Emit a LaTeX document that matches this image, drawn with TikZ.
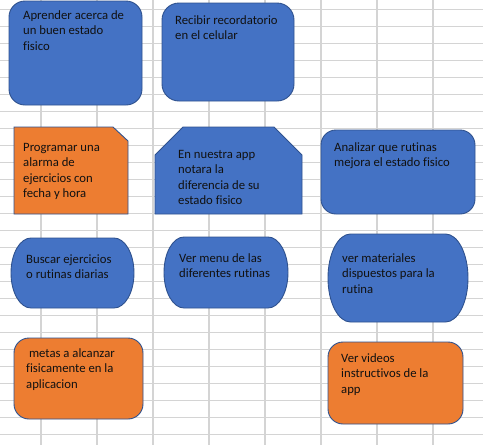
\documentclass[tikz,border=0pt]{standalone}
\usepackage{fontspec}
\setmainfont{Carlito}[Ligatures={NoCommon}]
\definecolor{boxblue}{HTML}{4472C4}
\definecolor{boxorange}{HTML}{ED7D31}
\definecolor{edgeblue}{HTML}{2F528F}
\definecolor{gridgray}{HTML}{D4D4D4}
\definecolor{txtcol}{HTML}{111111}
\newcommand{\txtlines}[1]{\begin{tabular}[t]{@{}l@{}}#1\end{tabular}}
\begin{document}
\begin{tikzpicture}[x=1pt,y=1pt,
  gridline/.style={draw=gridgray, line width=1.1pt},
  bluebox/.style={fill=boxblue, draw=edgeblue, line width=0.9pt},
  orangebox/.style={fill=boxorange, draw=edgeblue, line width=0.9pt},
  txt/.style={anchor=base west, inner sep=0pt, text=txtcol,
    font=\fontsize{12.7}{15.6}\selectfont}]
\useasboundingbox (0,0) rectangle (483,-445);
\fill[white] (0,0) rectangle (483,-445);
% spreadsheet grid
\foreach \i in {0,...,7} \draw[gridline] ({41+56*\i},0) -- ({41+56*\i},-445);
\foreach \j in {0,...,25} \draw[gridline] (0,{-9.2-17.02*\j}) -- (483,{-9.2-17.02*\j});
% row 1
\draw[bluebox, rounded corners=16pt] (9,-1) rectangle (142,-105);
\draw[bluebox, rounded corners=17pt] (162,-3) rectangle (294,-101);
% row 2
\draw[orangebox] (14,-127) -- (113,-127) -- (128,-141) -- (128,-214) -- (14,-214) -- cycle;
\draw[bluebox] (155,-155) -- (183,-127) -- (274,-127) -- (302,-155) -- (302,-214) -- (155,-214) -- cycle;
\draw[bluebox, rounded corners=15pt] (321,-130) rectangle (475,-214);
% row 3 (terminators)
\draw[bluebox] (31,-238) -- (114,-238) arc[start angle=90,end angle=-90,x radius=20,y radius=35]
  -- (31,-308) arc[start angle=270,end angle=90,x radius=20,y radius=35] -- cycle;
\draw[bluebox] (184,-237) -- (268,-237) arc[start angle=90,end angle=-90,x radius=20,y radius=35.5]
  -- (184,-308) arc[start angle=270,end angle=90,x radius=20,y radius=35.5] -- cycle;
\draw[bluebox] (350.5,-234) -- (445.5,-234) arc[start angle=90,end angle=-90,x radius=22.5,y radius=44]
  -- (350.5,-322) arc[start angle=270,end angle=90,x radius=22.5,y radius=44] -- cycle;
% row 4
\draw[orangebox, rounded corners=15pt] (14,-338) rectangle (143,-419);
\draw[orangebox, rounded corners=15pt] (328,-342) rectangle (463,-424);
% texts
\node[txt] (t1) at (23,-19) {\txtlines{Aprender acerca de\\un buen estado\\fisico}};
\node[txt] (t2) at (175,-24) {\txtlines{Recibir recordatorio\\en el celular}};
\node[txt] (t3) at (23,-151) {\txtlines{Programar una\\alarma de\\ejercicios con\\fecha y hora}};
\node[txt] (t4) at (178,-158) {\txtlines{En nuestra app\\notara la\\diferencia de su\\estado fisico}};
\node[txt] (t5) at (334,-151) {\txtlines{Analizar que rutinas\\mejora el estado fisico}};
\node[txt] (t6) at (26,-263) {\txtlines{Buscar ejercicios\\o rutinas diarias}};
\node[txt] (t7) at (179,-262) {\txtlines{Ver menu de las\\diferentes rutinas}};
\node[txt] (t8) at (342,-262) {\txtlines{ver materiales\\dispuestos para la\\rutina}};
\node[txt] (t9) at (26,-357) {\txtlines{\ metas a alcanzar\\fisicamente en la\\aplicacion}};
\node[txt] (t10) at (341,-362) {\txtlines{Ver videos\\instructivos de la\\app}};
\end{tikzpicture}
\end{document}
